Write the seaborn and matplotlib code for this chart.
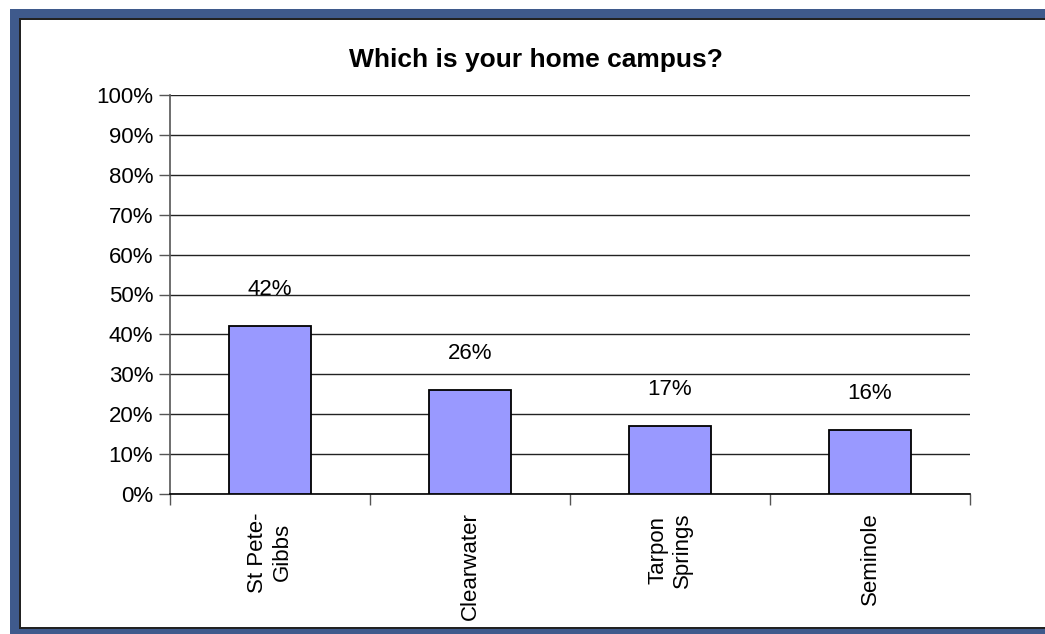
import matplotlib
matplotlib.use("Agg")
import matplotlib.pyplot as plt
import seaborn as sns
import pandas as pd
from matplotlib.patches import Rectangle
from matplotlib.ticker import FixedLocator

campuses = ["St Pete-\nGibbs", "Clearwater", "Tarpon\nSprings", "Seminole"]
shares = [42, 26, 17, 16]
value_labels = ["42%", "26%", "17%", "16%"]
y_ticks = [0, 10, 20, 30, 40, 50, 60, 70, 80, 90, 100]
y_tick_labels = ["0%", "10%", "20%", "30%", "40%", "50%", "60%", "70%", "80%", "90%", "100%"]
title = "Which is your home campus?"

sns.set_theme(style="white")
plt.rcParams["font.family"] = ["Liberation Sans", "DejaVu Sans"]

W, H = 1045, 634
fig = plt.figure(figsize=(W / 100, H / 100), dpi=100)
fig.patch.set_facecolor("white")

def px(x0, y0, x1, y1):
    return (x0 / W, 1 - y1 / H, (x1 - x0) / W, (y1 - y0) / H)

# frame decoration
blue = "#3F5A8C"
for (x0, y0, x1, y1), c in [
    ((10, 9, W, 18), blue),
    ((10, 9, 19, H), blue),
    ((10, 629, W, H), blue),
    ((19, 18, W, 19.5), "#222222"),
    ((19, 18, 20.5, 628), "#222222"),
    ((19, 627, W, 628.5), "#222222"),
]:
    l, b, w, h = px(x0, y0, x1, y1)
    fig.patches.append(Rectangle((l, b), w, h, transform=fig.transFigure,
                                 facecolor=c, edgecolor="none", zorder=0))

ax = fig.add_axes(px(170, 95, 970, 494))
df = pd.DataFrame({"campus": campuses, "share": shares})
sns.barplot(data=df, x="campus", y="share", ax=ax, color="#9999FF",
            saturation=1, width=0.41, edgecolor="black", linewidth=1.3, zorder=3)

ax.set_xlim(-0.5, len(campuses) - 0.5)
ax.set_ylim(0, 100)
ax.yaxis.set_major_locator(FixedLocator(y_ticks))
ax.set_yticklabels(y_tick_labels)
ax.grid(axis="y", color="#222222", linewidth=1.0, zorder=0)
ax.set_axisbelow(True)
for s in ["top", "right"]:
    ax.spines[s].set_visible(False)
ax.spines["left"].set_color("#555555")
ax.spines["left"].set_linewidth(1.2)
ax.spines["bottom"].set_color("black")
ax.spines["bottom"].set_linewidth(1.2)
ax.set_xlabel("")
ax.set_ylabel("")

ax.tick_params(axis="y", which="major", left=True, length=8, width=1, color="#555555",
               labelsize=16, pad=4, labelcolor="black")
ax.set_xticks(range(len(campuses)))
ax.set_xticklabels(campuses, rotation=90, fontsize=16, ha="center", va="top",
                   multialignment="center")
ax.tick_params(axis="x", which="major", length=0, pad=13, labelcolor="black")
ax.xaxis.set_minor_locator(FixedLocator([i - 0.5 for i in range(len(campuses) + 1)]))
ax.tick_params(axis="x", which="minor", bottom=True, length=8, width=1, color="#555555")

ax.bar_label(ax.containers[0], labels=value_labels, padding=19, fontsize=16, color="black")

fig.text(536 / W, 1 - 60 / H, title, ha="center", va="center", fontsize=19,
         fontweight="bold", color="black")

fig.savefig("out.png", dpi=100, facecolor="white")
